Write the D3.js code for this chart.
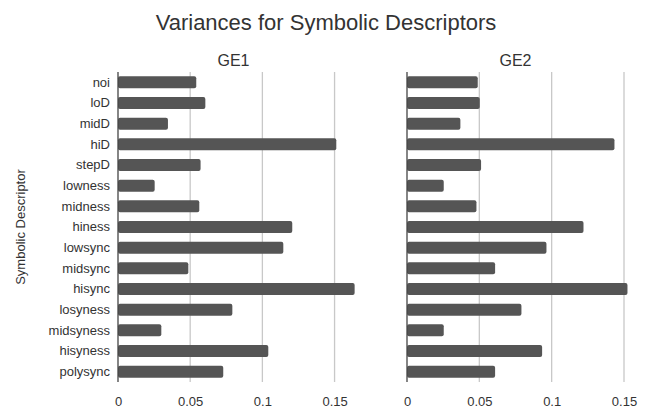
<!DOCTYPE html>
<html>
<head>
<meta charset="utf-8">
<script src="https://d3js.org/d3.v7.min.js"></script>
<style>
  body { margin: 0; background: #fff; }
  text { font-family: "Liberation Sans", Arial, sans-serif; fill: #333; }
</style>
</head>
<body>
<script>
// Data
var descriptors = ["noi", "loD", "midD", "hiD", "stepD", "lowness", "midness", "hiness",
                   "lowsync", "midsync", "hisync", "losyness", "midsyness", "hisyness", "polysync"];
var ge1 = [0.0542, 0.0605, 0.0346, 0.1512, 0.0572, 0.0254, 0.0563, 0.1207,
           0.1145, 0.0487, 0.1639, 0.0792, 0.0300, 0.1041, 0.0729];
var ge2 = [0.0489, 0.0503, 0.0369, 0.1434, 0.0512, 0.0254, 0.0480, 0.1220,
           0.0964, 0.0609, 0.1524, 0.0791, 0.0254, 0.0934, 0.0609];
var tickValues = [0, 0.05, 0.1, 0.15];
var tickLabels = ["0", "0.05", "0.1", "0.15"];

var width = 648,
    height = 410;

var svg = d3.select("body").append("svg")
    .attr("width", width)
    .attr("height", height);

// Shared vertical scale
var y = d3.scaleBand()
    .domain(descriptors)
    .range([72, 382])
    .paddingInner(0.42)
    .paddingOuter(0.21);

// Panels: each has its own x range
var panels = [
    {name: "GE1", values: ge1, x: d3.scaleLinear().domain([0, 0.16]).range([118, 349])},
    {name: "GE2", values: ge2, x: d3.scaleLinear().domain([0, 0.15]).range([407, 624])}
];

// Title
svg.append("text")
    .attr("x", 326)
    .attr("y", 30)
    .attr("text-anchor", "middle")
    .attr("font-size", "22px")
    .text("Variances for Symbolic Descriptors");

panels.forEach(function(p) {
    var g = svg.append("g");

    // Gridlines
    g.selectAll("line.grid")
        .data(tickValues.slice(1))
        .enter()
        .append("line")
        .attr("class", "grid")
        .attr("x1", d => p.x(d))
        .attr("x2", d => p.x(d))
        .attr("y1", 72)
        .attr("y2", 382)
        .attr("stroke", "#c8c8c8")
        .attr("stroke-width", 1.3);

    // Bars
    g.selectAll("rect")
        .data(p.values)
        .enter()
        .append("rect")
        .attr("x", p.x(0))
        .attr("y", (d, i) => y(descriptors[i]))
        .attr("width", d => p.x(d) - p.x(0))
        .attr("height", y.bandwidth())
        .attr("rx", 2)
        .attr("fill", "#555555");

    // Baseline
    g.append("line")
        .attr("x1", p.x(0))
        .attr("x2", p.x(0))
        .attr("y1", 72)
        .attr("y2", 382)
        .attr("stroke", "#444")
        .attr("stroke-width", 1.3);

    // X axis tick labels
    var axis = g.append("g")
        .attr("transform", "translate(0,392)")
        .call(d3.axisBottom(p.x)
            .tickValues(tickValues)
            .tickFormat((d, i) => tickLabels[i])
            .tickSize(0)
            .tickPadding(5));
    axis.select(".domain").remove();
    axis.selectAll("text")
        .attr("font-size", "13px")
        .attr("font-family", "Liberation Sans, Arial, sans-serif")
        .attr("fill", "#333");

    // Panel title
    var r = p.x.range();
    g.append("text")
        .attr("x", (r[0] + r[1]) / 2)
        .attr("y", 66)
        .attr("text-anchor", "middle")
        .attr("font-size", "16px")
        .text(p.name);
});

// Y axis labels
var yAxis = svg.append("g")
    .attr("transform", "translate(118,0)")
    .call(d3.axisLeft(y).tickSize(0).tickPadding(8));
yAxis.select(".domain").remove();
yAxis.selectAll("text")
    .attr("font-size", "13px")
    .attr("font-family", "Liberation Sans, Arial, sans-serif")
    .attr("fill", "#333");

// Y axis title
svg.append("text")
    .attr("transform", "translate(25,227) rotate(-90)")
    .attr("text-anchor", "middle")
    .attr("font-size", "13px")
    .text("Symbolic Descriptor");
</script>
</body>
</html>
